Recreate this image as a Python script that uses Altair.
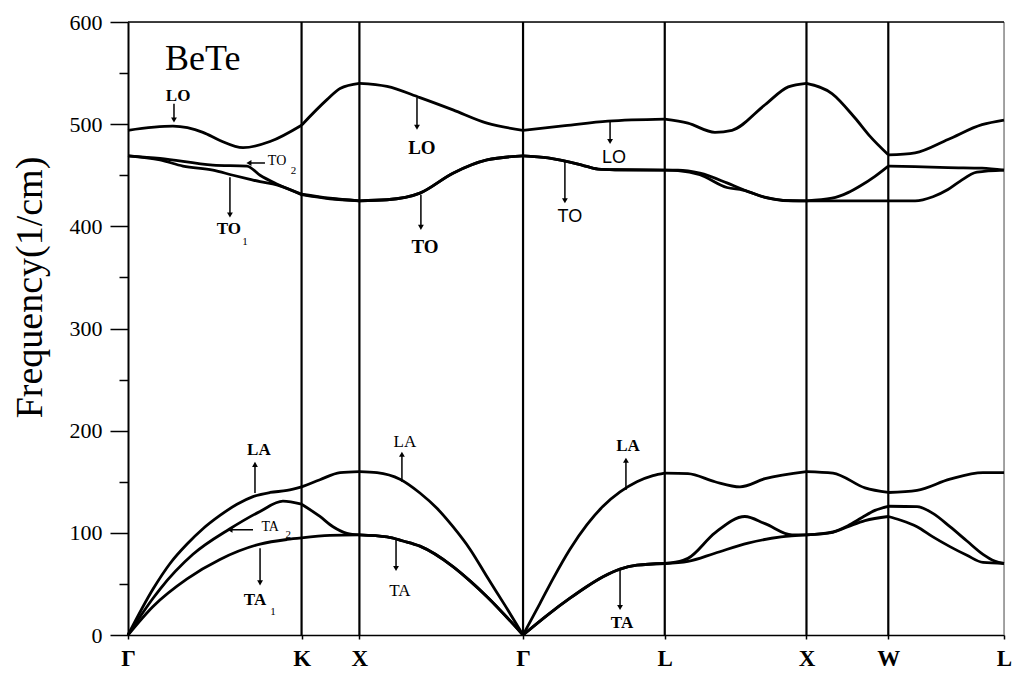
import altair as alt
import pandas as pd

# ---------------- data ----------------
sym_names = ["Γ", "K", "X", "Γ", "L", "X", "W", "L"]
sym_k = [0.0, 1.0607, 1.4142, 2.4142, 3.2802, 4.1463, 4.6463, 5.3534]
freq_ticks = list(range(0, 601, 50))

# band 1 (lowest, TA)
band1_k = [0, 0.153, 0.361, 0.562, 0.807, 0.972, 1.0607, 1.234, 1.4142, 1.583, 1.681, 1.784, 1.986, 2.090, 2.194,
           2.4142, 2.567, 2.701, 2.805, 2.903, 3.007, 3.110, 3.2802, 3.422, 3.587, 3.789, 3.991, 4.1463, 4.308, 4.400,
           4.504, 4.6463, 4.718, 4.822, 4.919, 5.023, 5.127, 5.225, 5.3534]
band1_f = [0, 28, 55, 74, 89, 93.5, 95, 97.5, 98, 96, 92, 87, 67, 53, 37.5,
           0, 20, 36, 47.5, 57, 64.5, 68.3, 70, 72, 80, 90, 96, 98, 100.5, 106,
           112, 116, 112.6, 106, 96, 86.5, 78, 71, 70]

# band 2 (TA)
band2_k = [0, 0.153, 0.196, 0.397, 0.623, 0.807, 0.947, 1.0607, 1.173, 1.253, 1.338, 1.4142, 1.583, 1.681,
           1.784, 1.986, 2.090, 2.194, 2.4142, 2.567, 2.701, 2.805, 2.903, 3.007, 3.110, 3.2802, 3.392, 3.422,
           3.587, 3.770, 3.893, 4.058, 4.1463, 4.308, 4.400, 4.486, 4.565, 4.6463, 4.822, 4.919, 5.023, 5.127,
           5.225, 5.296, 5.3534]
band2_f = [0, 36, 45, 79, 104, 121, 131, 128, 116, 106, 99.6, 98, 96, 92,
           87, 67, 53, 37.5, 0, 20, 36, 47.5, 57, 64.5, 68.3, 70, 73, 75,
           100, 116, 109, 98, 98, 101, 107, 115, 122, 126, 125.6, 119, 106, 92,
           79, 72.5, 70]

# band 3 (LA)
band3_k = [0, 0.153, 0.257, 0.361, 0.458, 0.562, 0.666, 0.764, 0.868, 0.972, 1.0607, 1.173, 1.296, 1.4142,
           1.522, 1.662, 1.784, 1.888, 1.986, 2.090, 2.194, 2.304, 2.4142, 2.518, 2.597, 2.701, 2.805, 2.903,
           3.007, 3.110, 3.208, 3.2802, 3.422, 3.587, 3.740, 3.893, 4.1463, 4.308, 4.504, 4.6463, 4.822, 5.023,
           5.225, 5.3534]
band3_f = [0, 45, 70, 89, 104, 117, 128, 135.5, 139.5, 141.5, 145, 152, 159, 160,
           159, 152.5, 139, 124, 106, 84, 57, 29, 0, 31, 55, 84, 108, 126,
           140, 150, 156, 158.5, 158, 150, 145, 153, 160, 158.5, 144, 139.5, 141.6, 152.6,
           159, 159]

# band 4 (TO, lower)
band4_k = [0, 0.196, 0.336, 0.519, 0.642, 0.746, 0.807, 0.909, 1.0607, 1.234, 1.4142, 1.583, 1.784, 1.986,
           2.194, 2.4142, 2.567, 2.774, 2.872, 2.976, 3.2802, 3.361, 3.495, 3.660, 3.758, 3.905, 4.003, 4.1463,
           4.302, 4.6463, 4.810, 4.919, 5.011, 5.084, 5.188, 5.3534]
band4_f = [469, 465, 459, 455, 450, 446, 443.7, 440.5, 431, 427, 425, 426, 432.5, 452,
           465, 469, 467, 460, 456, 455.4, 455, 454.5, 450.5, 438, 435.5, 427.8, 425.3, 425,
           425, 425, 425, 429, 436, 444, 453, 455]

# band 5 (TO, upper)
band5_k = [0, 0.196, 0.519, 0.727, 0.807, 0.909, 1.0607, 1.234, 1.4142, 1.583, 1.784, 1.986, 2.194, 2.4142,
           2.567, 2.774, 2.872, 2.976, 3.2802, 3.361, 3.495, 3.660, 3.758, 3.905, 4.003, 4.1463, 4.302, 4.400,
           4.474, 4.565, 4.6463, 4.810, 5.011, 5.219, 5.3534]
band5_f = [469, 466.5, 460, 459, 450, 441.5, 431.5, 427.5, 425, 426, 432.5, 452, 465, 469,
           467, 460, 456, 455.4, 455, 455, 452, 442.5, 436, 428, 425.5, 425, 427.5, 433,
           439.5, 449, 459, 458.5, 457.5, 457, 455]

# band 6 (LO)
band6_k = [0, 0.275, 0.458, 0.562, 0.703, 0.868, 1.0607, 1.216, 1.296, 1.4142, 1.583, 1.784, 1.986, 2.194,
           2.4142, 2.671, 2.933, 3.2802, 3.422, 3.587, 3.691, 3.893, 4.035, 4.1463, 4.302, 4.443, 4.535, 4.6463,
           4.810, 5.011, 5.219, 5.3534]
band6_f = [494, 498, 492, 484, 477, 483, 499, 524, 535, 540, 537, 526, 514, 501,
           494, 498.5, 503, 505, 501, 492, 494, 519, 536.5, 540, 530, 506, 488, 470,
           472, 485, 499.5, 504]

# annotation arrows (vertical): position, tail and head frequency
varrow_k = [0.281, 0.623, 1.766, 1.79, 2.946, 2.67, 0.776, 0.807, 1.674, 1.638, 3.043, 3.007]
varrow_tail = [520, 448, 526, 431, 502, 464, 139, 85, 150, 95, 142, 63.6]
varrow_head = [504, 411, 497, 399, 483, 425, 167, 51, 177, 65, 171, 27]
# annotation arrows (horizontal)
harrow_f = [462, 103]
harrow_tail = [0.837, 0.764]
harrow_head = [0.739, 0.623]

# labels
lab_bold_t = ["LO", "TO", "LA", "TA", "LA", "TA"]
lab_bold_k = [0.306, 0.617, 0.800, 0.776, 3.056, 3.019]
lab_bold_f = [528, 397, 181, 34, 185, 11.7]
lab_big_t = ["LO", "TO"]
lab_big_k = [1.796, 1.815]
lab_big_f = [476.5, 380]
lab_reg_t = ["LA", "TA"]
lab_reg_k = [1.692, 1.662]
lab_reg_f = [189, 43]
lab_sans_t = ["LO", "TO"]
lab_sans_k = [2.97, 2.70]
lab_sans_f = [467, 409]
lab_small_t = ["TO", "TA"]
lab_small_k = [0.911, 0.869]
lab_small_f = [463.5, 105.7]
lab_sub_t = ["2", "2", "1", "1"]
lab_sub_k = [1.011, 0.98, 0.715, 0.886]
lab_sub_f = [454, 98, 385, 22.5]

title_text = "BeTe"
title_k = 0.226
title_f = 553

# ---------------- build tables ----------------
bands = [(band1_k, band1_f), (band2_k, band2_f), (band3_k, band3_f),
         (band4_k, band4_f), (band5_k, band5_f), (band6_k, band6_f)]
rows = []
for bi, (ks, fs) in enumerate(bands):
    for si in range(len(sym_k) - 1):
        a, b = sym_k[si], sym_k[si + 1]
        for k, f in zip(ks, fs):
            if a - 1e-6 <= k <= b + 1e-6:
                rows.append({"k": k, "f": f, "seg": f"b{bi}s{si}"})
lines_df = pd.DataFrame(rows)

vlines_df = pd.DataFrame({"k": sym_k[1:-1], "f": [0] * (len(sym_k) - 2), "f2": [600] * (len(sym_k) - 2)})
end_df = pd.DataFrame({"k": [sym_k[-1]], "f": [0], "f2": [600]})
top_df = pd.DataFrame({"k": [sym_k[0]], "k2": [sym_k[-1]], "f": [600]})

varr_df = pd.DataFrame({"k": varrow_k, "f": varrow_tail, "f2": varrow_head})
harr_df = pd.DataFrame({"k": harrow_tail, "k2": harrow_head, "f": harrow_f})
heads_df = pd.concat([
    pd.DataFrame({"k": varrow_k, "f": varrow_head,
                  "shape": ["triangle-down" if h < t else "triangle-up" for t, h in zip(varrow_tail, varrow_head)]}),
    pd.DataFrame({"k": harrow_head, "f": harrow_f,
                  "shape": ["triangle-left" if h < t else "triangle-right" for t, h in zip(harrow_tail, harrow_head)]}),
], ignore_index=True)


def tdf(t, k, f):
    return pd.DataFrame({"t": t, "k": k, "f": f})


# ---------------- scales / axes ----------------
xs = alt.Scale(domain=[sym_k[0], sym_k[-1]], nice=False, zero=False)
ys = alt.Scale(domain=[0, 600], nice=False)

label_expr = "".join(f"abs(datum.value - {k}) < 0.01 ? '{n}' : " for k, n in zip(sym_k, sym_names)) + "''"

x_axis = alt.Axis(
    values=sym_k, labelExpr=label_expr, title=None, grid=False,
    labelFont="Liberation Serif", labelFontSize=23, labelFontWeight="bold", labelColor="black",
    labelFlush=False, labelPadding=8,
    tickSize=4, tickColor="black", tickWidth=1.5,
    domainColor="black", domainWidth=1.5,
)
y_axis = alt.Axis(
    values=freq_ticks, labelExpr="datum.value % 100 === 0 ? datum.label : ''",
    title="Frequency(1/cm)", grid=False,
    labelFont="Liberation Serif", labelFontSize=22, labelColor="black", labelPadding=8,
    tickSize={"condition": {"test": "datum.value % 100 === 0", "value": 18}, "value": 9},
    tickColor="black", tickWidth=1.5, domainColor="black", domainWidth=2,
    titleFont="Liberation Serif", titleFontSize=38, titleFontWeight="normal", titleColor="black",
    titleAngle=270, titleX=-98, titleY=265, titleAlign="center", titleBaseline="middle",
)


def X(field):
    return alt.X(f"{field}:Q", scale=xs, axis=x_axis)


def Y(field):
    return alt.Y(f"{field}:Q", scale=ys, axis=y_axis)


# ---------------- layers ----------------
vlines = alt.Chart(vlines_df).mark_rule(color="black", strokeWidth=2.2).encode(
    x=X("k"), y=Y("f"), y2="f2")
endline = alt.Chart(end_df).mark_rule(color="#888888", strokeWidth=1.5).encode(
    x=X("k"), y=Y("f"), y2="f2")
topline = alt.Chart(top_df).mark_rule(color="black", strokeWidth=1.5).encode(
    x=X("k"), x2="k2", y=Y("f"))

lines = alt.Chart(lines_df).mark_line(interpolate="monotone", color="black", strokeWidth=2.8).encode(
    x=X("k"), y=Y("f"), detail="seg:N")

varr = alt.Chart(varr_df).mark_rule(color="black", strokeWidth=1.5).encode(x=X("k"), y=Y("f"), y2="f2")
harr = alt.Chart(harr_df).mark_rule(color="black", strokeWidth=1.5).encode(x=X("k"), x2="k2", y=Y("f"))
heads = alt.Chart(heads_df).mark_point(filled=True, color="black", size=34, opacity=1).encode(
    x=X("k"), y=Y("f"), shape=alt.Shape("shape:N", scale=None))


def text_layer(df, **kw):
    return alt.Chart(df).mark_text(color="black", align="center", baseline="middle", **kw).encode(
        x=X("k"), y=Y("f"), text="t:N")


t_bold = text_layer(tdf(lab_bold_t, lab_bold_k, lab_bold_f), font="Liberation Serif", fontSize=17, fontWeight="bold")
t_big = text_layer(tdf(lab_big_t, lab_big_k, lab_big_f), font="Liberation Serif", fontSize=19, fontWeight="bold")
t_reg = text_layer(tdf(lab_reg_t, lab_reg_k, lab_reg_f), font="Liberation Serif", fontSize=17)
t_sans = text_layer(tdf(lab_sans_t, lab_sans_k, lab_sans_f), font="Liberation Sans", fontSize=18)
t_small = text_layer(tdf(lab_small_t, lab_small_k, lab_small_f), font="Liberation Serif", fontSize=14)
t_sub = text_layer(tdf(lab_sub_t, lab_sub_k, lab_sub_f), font="Liberation Serif", fontSize=11)

bete = alt.Chart(tdf([title_text], [title_k], [title_f])).mark_text(
    color="black", align="left", baseline="alphabetic", font="Liberation Serif", fontSize=36).encode(
    x=X("k"), y=Y("f"), text="t:N")

chart = alt.layer(
    vlines, endline, topline, lines, varr, harr, heads,
    t_bold, t_big, t_reg, t_sans, t_small, t_sub, bete,
).properties(
    width=876, height=613,
    autosize=alt.AutoSizeParams(type="none"),
    padding={"left": 120, "top": 14, "right": 8, "bottom": 39},
).configure_view(stroke="transparent").configure(background="white")

chart.save("out.html", embed_options={"renderer": "svg", "actions": False})
